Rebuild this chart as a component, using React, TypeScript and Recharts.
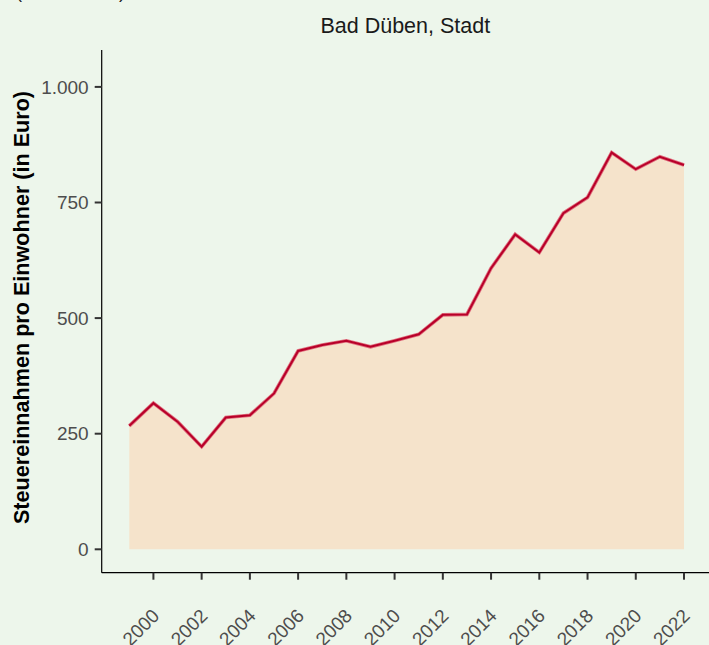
import React from "react";
import { ComposedChart, Area, Line, XAxis, YAxis } from "recharts";

const years = [1999, 2000, 2001, 2002, 2003, 2004, 2005, 2006, 2007, 2008, 2009, 2010, 2011, 2012, 2013, 2014, 2015, 2016, 2017, 2018, 2019, 2020, 2021, 2022];
const steuer = [267, 316, 276, 222, 285, 290, 337, 429, 442, 451, 438, 451, 465, 507, 508, 608, 681, 642, 727, 761, 858, 822, 849, 831];
const xTicks = [2000, 2002, 2004, 2006, 2008, 2010, 2012, 2014, 2016, 2018, 2020, 2022];
const yTicks = [0, 250, 500, 750, 1000];
const title = "Bad Düben, Stadt";
const yTitle = "Steuereinnahmen pro Einwohner (in Euro)";
const topNote = "(Stand: 2022)";

const data = years.map((y, i) => ({ year: y, value: steuer[i] }));

const FONT = "'Liberation Sans', Arial, Helvetica, sans-serif";
const BG = "#EDF6EB";

const fmt = (v: number) => v.toLocaleString("de-DE");

const XTick = (props: any) => {
  const { x, payload } = props;
  return (
    <g transform={`translate(${x + 7},617)`}>
      <text transform="rotate(-45)" textAnchor="end" x={0} y={0} fill="#4D4D4D" fontSize={19} fontFamily={FONT}>
        {payload.value}
      </text>
    </g>
  );
};

export default function App() {
  return (
    <div style={{ position: "absolute", left: 0, top: 0, width: 709, height: 645, background: BG, overflow: "hidden" }}>
      <ComposedChart width={709} height={645} data={data} margin={{ top: 50, right: 0, left: 0, bottom: 0 }}>
        <XAxis
          dataKey="year"
          type="number"
          domain={[1997.856, 2023.036]}
          allowDataOverflow
          ticks={xTicks}
          interval={0}
          height={72.3}
          stroke="#000"
          axisLine={{ stroke: "#000", strokeWidth: 1.2 }}
          tickLine={{ stroke: "#333", strokeWidth: 2 }}
          tickSize={7}
          tick={<XTick />}
        />
        <YAxis
          type="number"
          domain={[-50.6, 1079.8]}
          allowDataOverflow
          ticks={yTicks}
          interval={0}
          width={101.7}
          axisLine={{ stroke: "#000", strokeWidth: 1.2 }}
          tickLine={{ stroke: "#333", strokeWidth: 2 }}
          tickSize={7}
          tickMargin={6}
          tickFormatter={fmt}
          tick={{ fill: "#4D4D4D", fontSize: 19, fontFamily: FONT }}
        />
        <Area
          dataKey="value"
          type="linear"
          baseValue={0}
          stroke="none"
          fill="#F5E3CB"
          fillOpacity={1}
          isAnimationActive={false}
        />
        <Line dataKey="value" type="linear" stroke="#E0707F" strokeWidth={3.6} dot={false} isAnimationActive={false} />
        <Line dataKey="value" type="linear" stroke="#B80029" strokeWidth={2} dot={false} isAnimationActive={false} />
        <text x={405.3} y={33} textAnchor="middle" fontSize={21.5} fontFamily={FONT} fill="#1A1A1A">
          {title}
        </text>
        <text
          x={29}
          y={307.5}
          transform="rotate(-90 29 307.5)"
          textAnchor="middle"
          fontSize={21.6}
          fontWeight="bold"
          fontFamily={FONT}
          fill="#000"
        >
          {yTitle}
        </text>
        <text x={16} y={-2} fontSize={18} fontFamily={FONT} fill="#1A1A1A">
          {topNote}
        </text>
      </ComposedChart>
    </div>
  );
}
